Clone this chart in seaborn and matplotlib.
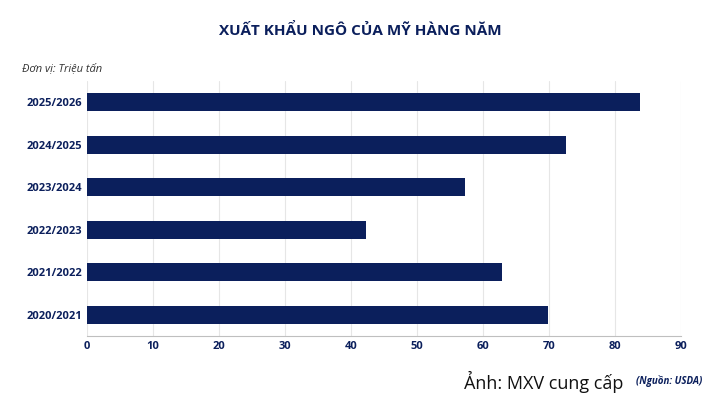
import matplotlib
matplotlib.use('Agg')
import matplotlib.pyplot as plt
import seaborn as sns
import pandas as pd

# US corn exports, million tonnes
seasons = ['2025/2026', '2024/2025', '2023/2024', '2022/2023', '2021/2022', '2020/2021']
exports = [83.8, 72.6, 57.3, 42.3, 62.9, 69.8]

navy = '#0b1f5c'
sns.set_style('white')
plt.rcParams['font.family'] = ['Open Sans', 'Noto Sans', 'DejaVu Sans']

df = pd.DataFrame({'season': seasons, 'value': exports})

fig = plt.figure(figsize=(7.2, 4.05), dpi=100)
ax = fig.add_axes([0.121, 0.17, 0.825, 0.63])
sns.barplot(data=df, x='value', y='season', color=navy, width=0.42, ax=ax,
            saturation=1, linewidth=0)

ax.set_xlim(0, 90)
ax.set_xticks(range(0, 91, 10))
ax.set_xlabel('')
ax.set_ylabel('')
ax.grid(axis='x', color='#e6e6e6', lw=0.8)
ax.set_axisbelow(True)
for s in ['top', 'right', 'left']:
    ax.spines[s].set_visible(False)
ax.spines['bottom'].set_color('#bfbfbf')
ax.tick_params(axis='both', length=0, labelsize=8, colors=navy)
for t in ax.get_xticklabels() + ax.get_yticklabels():
    t.set_fontweight('bold')

fig.text(0.5, 0.925, 'XUẤT KHẨU NGÔ CỦA MỸ HÀNG NĂM', ha='center', va='center',
         fontsize=11, fontweight='bold', color=navy)
fig.text(0.03, 0.83, 'Đơn vị: Triệu tấn', ha='left', va='center',
         fontsize=8, style='italic', color='#333333')
fig.text(0.645, 0.03, 'Ảnh: MXV cung cấp', ha='left', va='bottom',
         fontsize=13, color='#111111')
fig.text(0.975, 0.045, '(Nguồn: USDA)', ha='right', va='bottom',
         fontsize=7, style='italic', fontweight='bold', color=navy)

fig.savefig('out.png', dpi=100)
